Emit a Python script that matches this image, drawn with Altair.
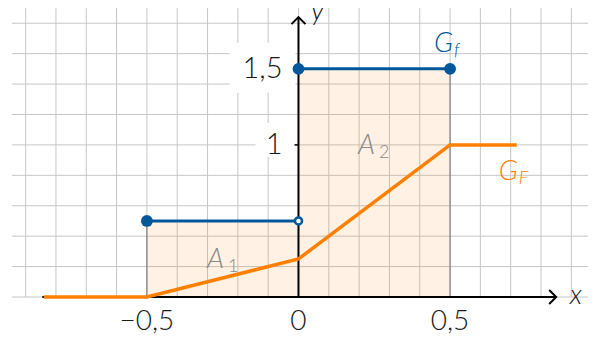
import altair as alt
import pandas as pd

# ---- data ----
grid_x = [-0.9, -0.8, -0.7, -0.6, -0.5, -0.4, -0.3, -0.2, -0.1, 0.0,
          0.1, 0.2, 0.3, 0.4, 0.5, 0.6, 0.7, 0.8, 0.9]
grid_y = [0.0, 0.2, 0.4, 0.6, 0.8, 1.0, 1.2, 1.4, 1.6, 1.8]
x_view = [-0.945, 0.955]
y_view = [0.0, 1.9]

# f: step function
f_x0 = [-0.5, 0.0]
f_x1 = [0.0, 0.5]
f_y = [0.5, 1.5]
f_closed_x = [-0.5, 0.0, 0.5]
f_closed_y = [0.5, 1.5, 1.5]
f_open_x = [0.0]
f_open_y = [0.5]

# F: integral function
F_x = [-0.84, -0.5, 0.0, 0.5, 0.72]
F_y = [0.0, 0.0, 0.25, 1.0, 1.0]

# axes
x_axis = [-0.845, 0.85]
y_axis = [0.0, 1.84]
x_ticks = [-0.5, 0.0, 0.5]
x_tick_labels = ["\u22120,5", "0", "0,5"]
y_ticks = [1.0, 1.5]
y_tick_labels = ["1", "1,5"]

# annotations
lab_x = [0.447, 0.661, -0.302, 0.196]
lab_y = [1.611, 0.769, 0.191, 0.940]
lab_main = ["G", "G", "A", "A"]
lab_sub = ["f", "F", "1", "2"]
lab_sub_italic = [True, True, False, False]
lab_color = ["#00589a", "#ff8000", "#8a8a8a", "#8a8a8a"]

axis_lab_x = [0.895, 0.041]
axis_lab_y = [-0.046, 1.82]
axis_lab_text = ["x", "y"]

# ---- chart ----
W, H = 576, 289
FONT = "Lato"
xs = alt.Scale(domain=x_view, nice=False, zero=False)
ys = alt.Scale(domain=y_view, nice=False, zero=False)


def X(f):
    return alt.X(f, type="quantitative", scale=xs, axis=None)


def Y(f):
    return alt.Y(f, type="quantitative", scale=ys, axis=None)


def X2(f):
    return alt.X2(f)


def Y2(f):
    return alt.Y2(f)


df_gx = pd.DataFrame({"x": grid_x, "y0": y_view[0], "y1": y_view[1]})
df_gy = pd.DataFrame({"y": grid_y, "x0": x_view[0], "x1": x_view[1]})
df_f = pd.DataFrame({"x0": f_x0, "x1": f_x1, "y": f_y, "b": 0.0})
df_fc = pd.DataFrame({"x": f_closed_x, "y": f_closed_y})
df_fo = pd.DataFrame({"x": f_open_x, "y": f_open_y})
df_F = pd.DataFrame({"x": F_x, "y": F_y, "i": list(range(len(F_x)))})
df_xt = pd.DataFrame({"x": x_ticks, "t": x_tick_labels, "b": 0.0})
df_yt = pd.DataFrame({"y": y_ticks, "t": y_tick_labels, "a": 0.0})
df_lab = pd.DataFrame({"x": lab_x, "y": lab_y, "m": lab_main, "s": lab_sub,
                       "it": lab_sub_italic, "c": lab_color})
df_al = pd.DataFrame({"x": axis_lab_x, "y": axis_lab_y, "t": axis_lab_text})
df_ax = pd.DataFrame({"x0": [x_axis[0]], "x1": [x_axis[1]], "y0": [y_axis[0]],
                      "y1": [y_axis[1]], "o": [0.0]})

GRID = "#c6c6c6"
BLUE = "#00589a"
ORANGE = "#ff8000"
INK = "#1a1a1a"

grid_v = alt.Chart(df_gx).mark_rule(color=GRID, strokeWidth=1).encode(
    x=X("x"), y=Y("y0"), y2=Y2("y1"))
grid_h = alt.Chart(df_gy).mark_rule(color=GRID, strokeWidth=1).encode(
    y=Y("y"), x=X("x0"), x2=X2("x1"))

area = alt.Chart(df_f).mark_rect(fill=ORANGE, fillOpacity=0.11, stroke="#6e6e6e",
                                 strokeWidth=1).encode(
    x=X("x0"), x2=X2("x1"), y=Y("b"), y2=Y2("y"))

box15 = alt.Chart(df_yt).transform_filter(alt.datum.t == "1,5").mark_rect(
    color="white", xOffset=-69, x2Offset=-3, yOffset=-26, y2Offset=24).encode(
    x=X("a"), x2=X2("a"), y=Y("y"), y2=Y2("y"))
box1 = alt.Chart(df_yt).transform_filter(alt.datum.t == "1").mark_rect(
    color="white", xOffset=-43, x2Offset=-3, yOffset=-22, y2Offset=12).encode(
    x=X("a"), x2=X2("a"), y=Y("y"), y2=Y2("y"))

xaxis = alt.Chart(df_ax).mark_rule(color="black", strokeWidth=2).encode(
    x=X("x0"), x2=X2("x1"), y=Y("o"))
yaxis = alt.Chart(df_ax).mark_rule(color="black", strokeWidth=2).encode(
    y=Y("y0"), y2=Y2("y1"), x=X("o"))
xarrow = alt.Chart(df_ax).mark_point(shape="M -1 -1 L 0 0 L -1 1", filled=False,
                                     stroke="black", strokeWidth=2, size=196, opacity=1).encode(
    x=X("x1"), y=Y("o"))
yarrow = alt.Chart(df_ax).mark_point(shape="M -1 1 L 0 0 L 1 1", filled=False,
                                     stroke="black", strokeWidth=2, size=196, opacity=1).encode(
    y=Y("y1"), x=X("o"))
yticks = alt.Chart(df_yt).mark_rule(color="black", strokeWidth=1.5, x2Offset=-4).encode(
    x=X("a"), x2=X2("a"), y=Y("y"))

F_line = alt.Chart(df_F).mark_line(color=ORANGE, strokeWidth=3.5, strokeCap="butt").encode(
    x=X("x"), y=Y("y"), order=alt.Order("i", type="quantitative"))

f_lines = alt.Chart(df_f).mark_rule(color=BLUE, strokeWidth=3).encode(
    x=X("x0"), x2=X2("x1"), y=Y("y"))
f_closed = alt.Chart(df_fc).mark_point(filled=True, color=BLUE, size=140, opacity=1).encode(
    x=X("x"), y=Y("y"))
f_open = alt.Chart(df_fo).mark_point(filled=True, fill="white", stroke=BLUE,
                                     strokeWidth=2.5, size=50, opacity=1).encode(
    x=X("x"), y=Y("y"))

xt_text = alt.Chart(df_xt).mark_text(font=FONT, fontSize=28, fontWeight=300, color=INK,
                                     align="center", baseline="alphabetic", dy=33).encode(
    x=X("x"), y=Y("b"), text=alt.Text("t", type="nominal"))
yt_text = alt.Chart(df_yt).mark_text(font=FONT, fontSize=29, fontWeight=300, color=INK,
                                     align="right", baseline="middle", dx=-16).encode(
    x=X("a"), y=Y("y"), text=alt.Text("t", type="nominal"))

lab_main_t = alt.Chart(df_lab).mark_text(font=FONT, fontSize=28, fontStyle="italic",
                                         fontWeight=300, align="left",
                                         baseline="alphabetic").encode(
    x=X("x"), y=Y("y"), text=alt.Text("m", type="nominal"),
    color=alt.Color("c", type="nominal", scale=None))
lab_sub_it = alt.Chart(df_lab).transform_filter(alt.datum.it).mark_text(
    font=FONT, fontSize=18, fontStyle="italic", fontWeight=300, align="left",
    baseline="alphabetic", dx=20, dy=4).encode(
    x=X("x"), y=Y("y"), text=alt.Text("s", type="nominal"),
    color=alt.Color("c", type="nominal", scale=None))
lab_sub_up = alt.Chart(df_lab).transform_filter(~alt.datum.it).mark_text(
    font=FONT, fontSize=18, fontWeight=300, align="left",
    baseline="alphabetic", dx=21, dy=4).encode(
    x=X("x"), y=Y("y"), text=alt.Text("s", type="nominal"),
    color=alt.Color("c", type="nominal", scale=None))
ax_lab = alt.Chart(df_al).mark_text(font=FONT, fontSize=28, fontStyle="italic", fontWeight=300,
                                    color=INK, align="left", baseline="alphabetic").encode(
    x=X("x"), y=Y("y"), text=alt.Text("t", type="nominal"))

chart = alt.layer(
    grid_v, grid_h, area, box15, box1, xaxis, yaxis, xarrow, yarrow, yticks,
    F_line, f_lines, f_closed, f_open, xt_text, yt_text, lab_main_t, lab_sub_it,
    lab_sub_up, ax_lab
).properties(
    width=W, height=H,
    autosize=alt.AutoSizeParams(type="none"),
    padding={"left": 4, "top": 0, "right": 0, "bottom": 38},
).configure_view(stroke=None)

chart.save("out.html", embed_options={"renderer": "svg", "actions": False})
